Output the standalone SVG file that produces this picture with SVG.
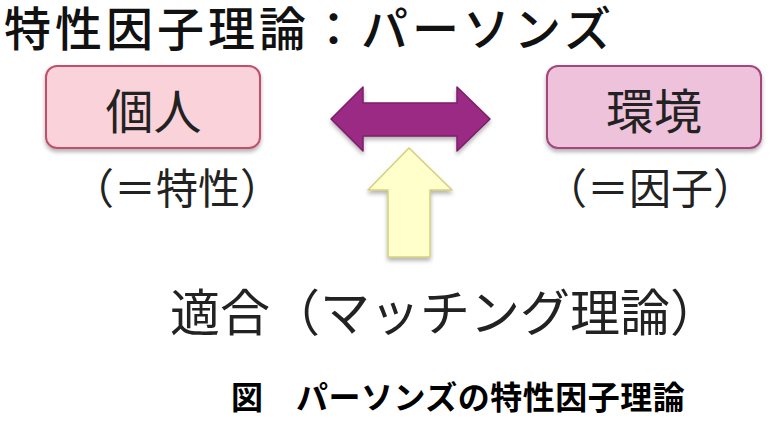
<svg xmlns="http://www.w3.org/2000/svg" width="774" height="427" viewBox="0 0 774 427">
<defs>
<style>
text{font-family:"Noto Sans CJK JP","Noto Sans CJK SC",sans-serif;fill:#222;}
.title{font-size:47px;letter-spacing:4px;font-weight:500;fill:#111;}
.node{font-size:48px;text-anchor:middle;}
.sub{font-size:42px;}
.match{font-size:50px;}
.cap{font-size:32px;font-weight:bold;fill:#000;letter-spacing:0.5px;}
</style>
<filter id="sh" x="-10%" y="-10%" width="120%" height="130%">
<feGaussianBlur in="SourceAlpha" stdDeviation="2"/>
<feOffset dx="0" dy="3"/>
<feComponentTransfer><feFuncA type="linear" slope="0.3"/></feComponentTransfer>
<feMerge><feMergeNode/><feMergeNode in="SourceGraphic"/></feMerge>
</filter>
</defs>
<rect width="774" height="427" fill="#fff"/>
<text class="title" x="4" y="46">特性因子理論：パーソンズ</text>
<g id="node-kojin">
<rect x="46" y="66" width="214" height="82" rx="11" fill="#F9D2DA" stroke="#C2506C" stroke-width="2" filter="url(#sh)"/>
<text class="node" x="153.5" y="129">個人</text>
<text class="sub" x="72" y="204">（＝特性）</text>
</g>
<g id="node-kankyo">
<rect x="547" y="66" width="214" height="82" rx="11" fill="#EEC2DA" stroke="#A4447E" stroke-width="2" filter="url(#sh)"/>
<text class="node" x="654" y="129">環境</text>
<text class="sub" x="545" y="204">（＝因子）</text>
</g>
<g id="connectors">
<polygon points="331,119 363,87 363,103 457,103 457,87 490,119 457,151 457,136 363,136 363,151" fill="#9A2A84" stroke="#7C1E68" stroke-width="1.5" stroke-linejoin="round" filter="url(#sh)"/>
<polygon points="409,148 452,190 430,190 430,257 388,257 388,190 368,190" fill="#FFFFCC" stroke="#D6CF7A" stroke-width="1.5" stroke-linejoin="round" filter="url(#sh)"/>
</g>
<text class="match" x="170" y="331">適合（マッチング理論）</text>
<text class="cap" x="231" y="409">図　パーソンズの特性因子理論</text>
</svg>
